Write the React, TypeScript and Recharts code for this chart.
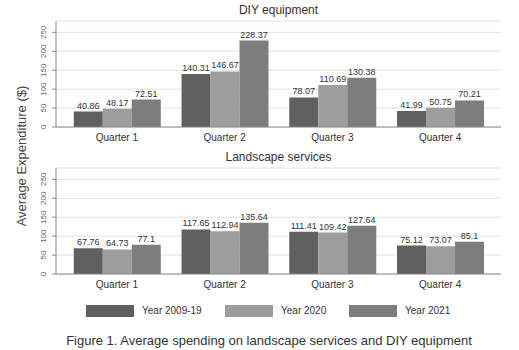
import React from 'react';
import { BarChart, Bar, XAxis, YAxis, CartesianGrid, LabelList } from 'recharts';

const quarters = ['Quarter 1', 'Quarter 2', 'Quarter 3', 'Quarter 4'];
const seriesNames = ['Year 2009-19', 'Year 2020', 'Year 2021'];
const diy2009 = [40.86, 140.31, 78.07, 41.99];
const diy2020 = [48.17, 146.67, 110.69, 50.75];
const diy2021 = [72.51, 228.37, 130.38, 70.21];
const land2009 = [67.76, 117.65, 111.41, 75.12];
const land2020 = [64.73, 112.94, 109.42, 73.07];
const land2021 = [77.1, 135.64, 127.64, 85.1];
const yTicks = [0, 50, 100, 150, 200, 250];
const panelTitles = ['DIY equipment', 'Landscape services'];
const yLabel = 'Average Expenditure ($)';
const caption = 'Figure 1. Average spending on landscape services and DIY equipment';

const colors = ['#606060', '#9d9d9d', '#7d7d7d'];
const FONT = '"Liberation Sans", Arial, Helvetica, sans-serif';
const FRAME = '#8a8a8a';

const buildRows = (a: number[], b: number[], c: number[]) =>
  quarters.map((q, i) => ({ q, s0: a[i], s1: b[i], s2: c[i] }));

const YTick = (props: any) => {
  const { x, y, payload } = props;
  return (
    <text
      x={x}
      y={y}
      transform={`rotate(-90, ${x}, ${y})`}
      textAnchor="middle"
      fontSize={8}
      fill="#666"
      fontFamily={FONT}
    >
      {payload.value}
    </text>
  );
};

const Panel = ({ title, rows, top }: { title: string; rows: any[]; top: number }) => (
  <div style={{ position: 'absolute', left: 0, top, width: 519, height: 147 }}>
    <div
      style={{
        position: 'absolute',
        left: 56,
        width: 445,
        top: 2,
        textAlign: 'center',
        fontSize: 12,
        fontFamily: FONT,
        color: '#333',
        lineHeight: '16px',
      }}
    >
      {title}
    </div>
    <BarChart
      width={519}
      height={147}
      data={rows}
      margin={{ top: 21, right: 18, bottom: 0, left: 0 }}
      barCategoryGap="10%"
      barGap={0}
    >
      <CartesianGrid horizontal vertical={false} stroke="#e2e2e2" />
      <XAxis
        dataKey="q"
        height={20}
        tickLine={false}
        tickSize={0}
        tickMargin={7}
        padding={{ left: 7, right: 7 }}
        axisLine={{ stroke: FRAME }}
        tick={{ fontSize: 10, fill: '#333', fontFamily: FONT }}
        interval={0}
      />
      <XAxis
        xAxisId="top"
        dataKey="q"
        orientation="top"
        height={0}
        tick={false}
        tickLine={false}
        axisLine={{ stroke: FRAME }}
      />
      <YAxis
        width={56}
        domain={[0, 280]}
        ticks={yTicks}
        interval={0}
        tickSize={4}
        tickMargin={6}
        tickLine={{ stroke: FRAME }}
        axisLine={{ stroke: FRAME }}
        tick={<YTick />}
        allowDataOverflow
      />
      <YAxis
        yAxisId="right"
        orientation="right"
        width={0}
        domain={[0, 280]}
        tick={false}
        tickLine={false}
        axisLine={{ stroke: FRAME }}
      />
      {['s0', 's1', 's2'].map((k, i) => (
        <Bar key={k} dataKey={k} name={seriesNames[i]} fill={colors[i]} isAnimationActive={false}>
          <LabelList
            dataKey={k}
            position="top"
            offset={3}
            fontSize={9}
            fill="#333"
            fontFamily={FONT}
          />
        </Bar>
      ))}
    </BarChart>
  </div>
);

export default function App() {
  const swatchLeft = [86, 225, 349];
  return (
    <div
      style={{
        position: 'absolute',
        left: 0,
        top: 0,
        width: 519,
        height: 350,
        background: '#fff',
        overflow: 'hidden',
        fontFamily: FONT,
      }}
    >
      <Panel title={panelTitles[0]} rows={buildRows(diy2009, diy2020, diy2021)} top={0} />
      <Panel title={panelTitles[1]} rows={buildRows(land2009, land2020, land2021)} top={147} />
      <div
        style={{
          position: 'absolute',
          left: 22 - 100,
          top: 156 - 9,
          width: 200,
          height: 18,
          lineHeight: '18px',
          textAlign: 'center',
          transform: 'rotate(-90deg)',
          fontSize: 13,
          color: '#444',
          whiteSpace: 'nowrap',
        }}
      >
        {yLabel}
      </div>
      {seriesNames.map((n, i) => (
        <div
          key={n}
          style={{ position: 'absolute', left: swatchLeft[i], top: 305, display: 'flex', alignItems: 'center' }}
        >
          <div style={{ width: 48, height: 12, background: colors[i] }} />
          <span style={{ marginLeft: 8, fontSize: 10, color: '#333', lineHeight: '12px' }}>{n}</span>
        </div>
      ))}
      <div
        style={{
          position: 'absolute',
          left: 0,
          width: 538,
          top: 333,
          textAlign: 'center',
          fontSize: 13,
          color: '#333',
          lineHeight: '16px',
          whiteSpace: 'nowrap',
        }}
      >
        {caption}
      </div>
    </div>
  );
}
